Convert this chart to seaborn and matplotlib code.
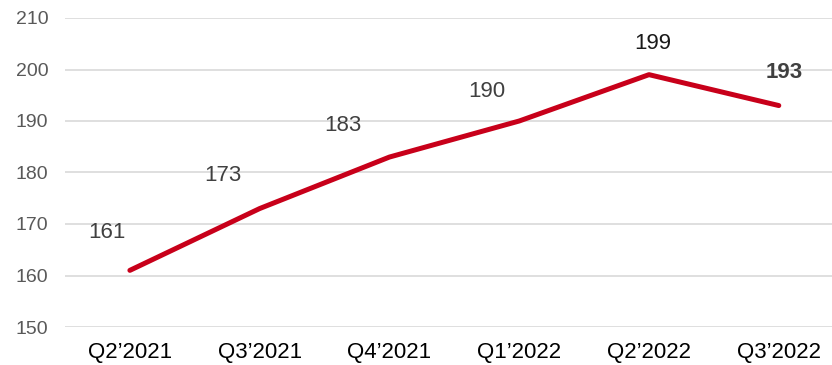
import matplotlib
matplotlib.use("Agg")
import matplotlib.pyplot as plt
import seaborn as sns
import pandas as pd

quarters = ["Q2\u20192021", "Q3\u20192021", "Q4\u20192021", "Q1\u20192022", "Q2\u20192022", "Q3\u20192022"]
values = [161, 173, 183, 190, 199, 193]
y_ticks = [150, 160, 170, 180, 190, 200, 210]

sns.set_theme(style="white")
plt.rcParams["font.family"] = ["Liberation Sans", "DejaVu Sans"]

df = pd.DataFrame({"quarter": quarters, "value": values, "idx": range(len(quarters))})

fig = plt.figure(figsize=(8.32, 3.65), dpi=100)
ax = fig.add_axes([65 / 832, 1 - 327 / 365, 1 - 65 / 832, (327 - 18) / 365])

sns.lineplot(data=df, x="idx", y="value", ax=ax, color="#C8001A", linewidth=3.6,
             solid_capstyle="round", solid_joinstyle="round", zorder=3)

ax.set_ylim(150, 210)
ax.set_xlim(-0.5, 5.41)
ax.set_yticks(y_ticks)
ax.set_xticks(range(len(quarters)))
ax.set_xticklabels(quarters)
ax.yaxis.grid(True, color="#D9D9D9", linewidth=1.2, zorder=0)
ax.xaxis.grid(False)
for s in ax.spines.values():
    s.set_visible(False)
ax.set_xlabel("")
ax.set_ylabel("")
ax.tick_params(axis="y", labelsize=14, labelcolor="#595959", length=0, pad=12)
ax.tick_params(axis="x", labelsize=16, labelcolor="#000000", length=0, pad=11)
for lbl in ax.get_yticklabels():
    lbl.set_horizontalalignment("right")

# value labels sit above each point
offsets = [(-23, 38), (-37, 33), (-47, 32), (-32, 29), (4, 31), (5, 33)]
for i, (v, off) in enumerate(zip(values, offsets)):
    last = i == len(values) - 1
    ax.annotate(str(v), (i, v), xytext=off, textcoords="offset pixels",
                ha="center", va="center", fontsize=16,
                color="#404040" if i != 4 else "#1a1a1a",
                fontweight="bold" if last else "normal")

fig.savefig("out.png", dpi=100)
